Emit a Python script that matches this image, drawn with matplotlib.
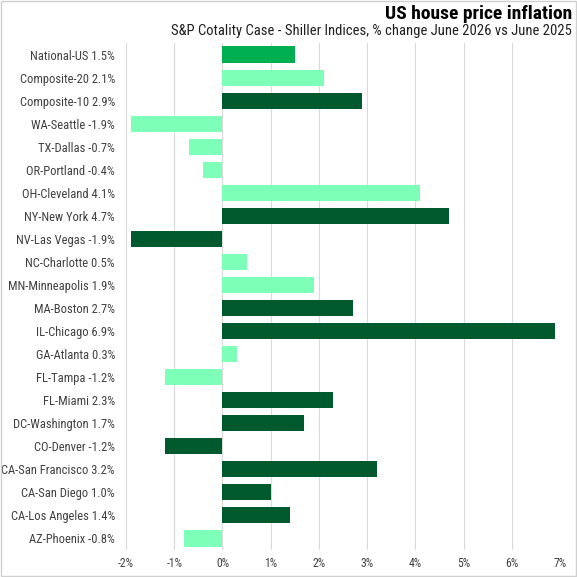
import matplotlib.pyplot as plt
from matplotlib import font_manager

cities = ["National-US", "Composite-20", "Composite-10", "WA-Seattle", "TX-Dallas",
          "OR-Portland", "OH-Cleveland", "NY-New York", "NV-Las Vegas", "NC-Charlotte",
          "MN-Minneapolis", "MA-Boston", "IL-Chicago", "GA-Atlanta", "FL-Tampa",
          "FL-Miami", "DC-Washington", "CO-Denver", "CA-San Francisco", "CA-San Diego",
          "CA-Los Angeles", "AZ-Phoenix"]
changes = [1.5, 2.1, 2.9, -1.9, -0.7, -0.4, 4.1, 4.7, -1.9, 0.5,
           1.9, 2.7, 6.9, 0.3, -1.2, 2.3, 1.7, -1.2, 3.2, 1.0, 1.4, -0.8]
# 'n' = national, 'l' = light, 'd' = dark
groups = ["n", "l", "d", "l", "l", "l", "l", "d", "d", "l",
          "l", "d", "d", "l", "l", "d", "d", "d", "d", "d", "d", "l"]

palette = {"n": "#00b050", "l": "#7dffb8", "d": "#005a2d"}

# pick a narrow font if one is around
fonts = font_manager.fontManager.ttflist
names = {f.name for f in fonts}
family, stretch = "Liberation Sans", "normal"
for cand in ["Liberation Sans Narrow", "Roboto Condensed", "Open Sans Condensed",
             "DejaVu Sans Condensed"]:
    if cand in names:
        family = cand
        break
else:
    if any(f.name == "DejaVu Sans" and f.stretch == "condensed" for f in fonts):
        family, stretch = "DejaVu Sans", "condensed"
plt.rcParams['font.family'] = [family, 'DejaVu Sans']
plt.rcParams['font.stretch'] = stretch

fig = plt.figure(figsize=(5.77, 5.77), dpi=100)
ax = fig.add_axes([126/577, 1 - 550/577, (560 - 126)/577, (550 - 43)/577])

labels = [f"{c} {v:.1f}%" for c, v in zip(cities, changes)]
ypos = list(range(len(cities)))
ax.barh(ypos, changes, height=0.7, color=[palette[g] for g in groups], zorder=3)

ax.set_xlim(-2, 7)
ax.set_ylim(len(cities) - 0.5, -0.5)
ax.set_xticks(range(-2, 8))
ax.set_xticklabels([f"{t}%" for t in range(-2, 8)])
ax.set_yticks(ypos)
ax.set_yticklabels(labels)
ax.tick_params(axis='both', length=0, labelsize=8.5, colors="#404040")
ax.tick_params(axis='y', pad=8, labelsize=9)
ax.tick_params(axis='x', pad=5)
ax.grid(axis='x', color="#d9d9d9", linewidth=0.8, zorder=0)
for s in ax.spines.values():
    s.set_visible(False)

fig.text(0.991, 0.975, "US house price inflation", ha='right', va='center',
         fontsize=14, fontweight='bold', color="black")
fig.text(0.991, 0.946, "S&P Cotality Case - Shiller Indices, % change June 2026 vs June 2025",
         ha='right', va='center', fontsize=10.5, color="#202020")

fig.patches.append(plt.Rectangle((0.001, 0.001), 0.997, 0.997, transform=fig.transFigure,
                                 fill=False, edgecolor="#d0d0d0", linewidth=1))

fig.savefig("out.png", dpi=100)
